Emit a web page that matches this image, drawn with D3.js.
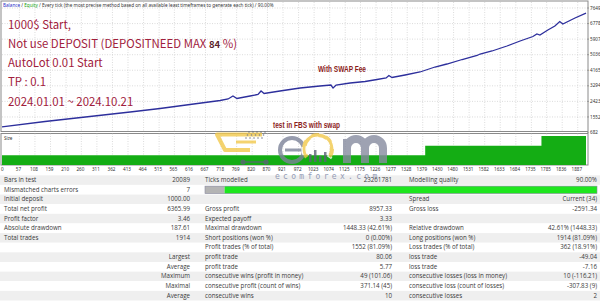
<!DOCTYPE html>
<html>
<head>
<meta charset="utf-8">
<script src="https://cdn.jsdelivr.net/npm/d3@7"></script>
<style>
  body { margin: 0; background: #fff; }
  svg { display: block; }
  .grid { stroke: #c4c4c4; stroke-width: 0.6; stroke-dasharray: 1,1.5; }
  .skala { font-family: "Noto Sans", sans-serif; font-size: 4.6px; fill: #333; }
  .note { font-family: "Noto Sans CJK KR", "Noto Sans", sans-serif; fill: #a1203c; }
  .swap { font-family: "Liberation Sans Narrow", "Liberation Sans", sans-serif; font-weight: bold; font-size: 9.4px; fill: #8c1c1c; }
  .tab { font-family: "Open Sans", sans-serif; font-size: 6.2px; fill: #3a3a3a; }
</style>
</head>
<body>
<div id="box"></div>
<script>
// balance curve (trade number -> balance)
const tradeNo = [0, 141, 288, 420, 518, 616, 715, 741, 757, 770, 813, 839, 849, 859, 911, 977,
  1042, 1078, 1085, 1095, 1141, 1190, 1229, 1259, 1268, 1278, 1321, 1370, 1419, 1458, 1508,
  1557, 1567, 1606, 1655, 1698, 1740, 1753, 1763, 1789, 1812, 1828, 1838, 1878, 1914]
const balance = [1000, 1298, 1577, 1829, 2025, 2249, 2473, 2557, 2725, 2585, 2725, 2808, 3004, 2864, 3004, 3172,
  3284, 3340, 3172, 3340, 3452, 3536, 3648, 3732, 3872, 3760, 3900, 4068, 4347, 4515, 4767,
  4991, 5075, 5243, 5523, 5802, 6054, 6194, 6138, 6418, 6642, 6894, 6753, 7089, 7366]

// lot size steps
const sizeFrom = [0, 1387, 1768]
const sizeLots = [0.01, 0.02, 0.03]
const totalTrades = 1914

// axis labels
const xTicks = [0, 57, 108, 159, 210, 260, 311, 362, 413, 464, 515, 565, 616, 667, 718, 769, 820, 870,
  921, 972, 1023, 1074, 1125, 1175, 1226, 1277, 1328, 1379, 1430, 1480, 1531, 1582, 1633, 1684,
  1735, 1785, 1836, 1887]
const yTicks = [682, 1552, 2423, 3294, 4165, 5036, 5907, 6778, 7649]

// notes written on the chart
const notes = ["1000$ Start,", "Not use DEPOSIT (DEPOSITNEED MAX ", "AutoLot 0.01 Start", "TP : 0.1", "2024.01.01 ~ 2024.10.21"]

// report table
const reportRows = [
  ["Bars in test", "20089", "Ticks modelled", "23261781", "Modelling quality", "90.00%"],
  ["Mismatched charts errors", "7", "", "", "", ""],
  ["Initial deposit", "1000.00", "", "", "Spread", "Current (34)"],
  ["Total net profit", "6365.99", "Gross profit", "8957.33", "Gross loss", "-2591.34"],
  ["Profit factor", "3.46", "Expected payoff", "3.33", "", ""],
  ["Absolute drawdown", "187.61", "Maximal drawdown", "1448.33 (42.61%)", "Relative drawdown", "42.61% (1448.33)"],
  ["Total trades", "1914", "Short positions (won %)", "0 (0.00%)", "Long positions (won %)", "1914 (81.09%)"],
  ["", "", "Profit trades (% of total)", "1552 (81.09%)", "Loss trades (% of total)", "362 (18.91%)"],
  ["", "Largest", "profit trade", "80.06", "loss trade", "-49.04"],
  ["", "Average", "profit trade", "5.77", "loss trade", "-7.16"],
  ["", "Maximum", "consecutive wins (profit in money)", "49 (101.06)", "consecutive losses (loss in money)", "10 (-116.21)"],
  ["", "Maximal", "consecutive profit (count of wins)", "371.14 (45)", "consecutive loss (count of losses)", "-307.83 (9)"],
  ["", "Average", "consecutive wins", "10", "consecutive losses", "2"]
]
const qualityParts = [[0, 5, "#b4b4b4"], [5, 100, "#1ee61e"]]

const W = 600, H = 301
const plotL = 2, plotR = 586
const mainTop = 2, mainBot = 131.5
const sizeTop = 133.5, sizeBot = 165

const svg = d3.select("#box").append("svg").attr("width", W).attr("height", H)

const x = d3.scaleLinear().domain([0, totalTrades]).range([plotL, plotR])
const y = d3.scaleLinear().domain([682, 7649]).range([132.5, 8])
const ys = d3.scaleLinear().domain([0, 0.03]).range([sizeBot, 136])

// frames
svg.append("rect").attr("x", 1).attr("y", 1).attr("width", plotR + 1).attr("height", mainBot - 1)
  .attr("fill", "#fff").attr("stroke", "#8a8a8a").attr("stroke-width", 1)
svg.append("rect").attr("x", 1).attr("y", sizeTop).attr("width", plotR + 1).attr("height", sizeBot - sizeTop)
  .attr("fill", "#fff").attr("stroke", "#8a8a8a").attr("stroke-width", 1)

// grid
const g = svg.append("g")
g.selectAll("line.vx").data(xTicks.slice(1)).enter().append("line")
  .attr("class", "grid").attr("x1", d => x(d)).attr("x2", d => x(d)).attr("y1", mainTop).attr("y2", mainBot)
g.selectAll("line.vs").data(xTicks.slice(1)).enter().append("line")
  .attr("class", "grid").attr("x1", d => x(d)).attr("x2", d => x(d)).attr("y1", sizeTop).attr("y2", sizeBot)
g.selectAll("line.hy").data(yTicks.slice(1)).enter().append("line")
  .attr("class", "grid").attr("x1", plotL).attr("x2", plotR).attr("y1", d => y(d)).attr("y2", d => y(d))

// size panel
const sizeData = sizeFrom.map((d, i) => ({ t: d, v: sizeLots[i] }))
sizeData.push({ t: totalTrades, v: sizeLots[sizeLots.length - 1] })
svg.append("path").datum(sizeData)
  .attr("fill", "#14ad14")
  .attr("d", d3.area().curve(d3.curveStepAfter).x(d => x(d.t)).y0(sizeBot).y1(d => ys(d.v)))
svg.append("text").attr("class", "skala").attr("x", 4).attr("y", 139.5).text("Size")

// balance line
const pts = tradeNo.map((t, i) => [t, balance[i]])
svg.append("path").datum(pts)
  .attr("fill", "none").attr("stroke", "#2d2f9c").attr("stroke-width", 1.3)
  .attr("d", d3.line().x(d => x(d[0])).y(d => y(d[1])))

// right axis
svg.append("g").selectAll("text").data(yTicks).enter().append("text")
  .attr("class", "skala").attr("x", 590).attr("y", d => y(d) + 1.6).text(d => d)
svg.append("g").selectAll("line").data(yTicks).enter().append("line")
  .attr("x1", plotR + 1).attr("x2", plotR + 3).attr("y1", d => y(d)).attr("y2", d => y(d))
  .attr("stroke", "#777").attr("stroke-width", 0.6)

// bottom axis
svg.append("g").selectAll("text").data(xTicks).enter().append("text")
  .attr("class", "skala").attr("x", d => x(d) - 1).attr("y", 170.5)
  .style("text-anchor", d => d == 0 ? "start" : "middle").text(d => d)

// title
const title = svg.append("text").attr("class", "skala").attr("x", 3).attr("y", 6.5).style("font-size", "4.65px")
title.append("tspan").attr("fill", "#1f2fc8").text("Balance")
title.append("tspan").text(" / ")
title.append("tspan").attr("fill", "#10a010").text("Equity")
title.append("tspan").text(" / Every tick (the most precise method based on all available least timeframes to generate each tick) / 90.00%")

// notes
const noteY = [29, 48, 67, 86, 106]
notes.forEach((s, i) => {
  const t = svg.append("text").attr("class", "note").attr("x", 8).attr("y", noteY[i])
    .style("font-size", "11.4px").text(s)
  if (i == 1) {
    t.append("tspan").style("font-weight", "bold").style("font-size", "9.5px").attr("fill", "#5c1f2c").text("84")
    t.append("tspan").text(" %)")
  }
})
svg.append("text").attr("class", "swap").attr("x", 318).attr("y", 72)
  .attr("textLength", 48).attr("lengthAdjust", "spacingAndGlyphs").text("With SWAP  Fee")
svg.append("text").attr("class", "swap").attr("x", 273).attr("y", 127.5)
  .attr("textLength", 67).attr("lengthAdjust", "spacingAndGlyphs").text("test in FBS with swap")

// table
const rowH = 9.63, tabTop = 175.3
const tab = svg.append("g")
tab.selectAll("rect").data(reportRows).enter().append("rect")
  .attr("x", 0).attr("y", (d, i) => tabTop + i * rowH).attr("width", W).attr("height", rowH)
  .attr("fill", (d, i) => i % 2 == 0 ? "#efefef" : "#fff")
const colX = [4, 190, 205, 392, 409, 597]
const colA = ["start", "end", "start", "end", "start", "end"]
reportRows.forEach((r, i) => {
  r.forEach((c, j) => {
    if (c == "") return
    tab.append("text").attr("class", "tab").attr("x", colX[j]).attr("y", tabTop + i * rowH + 6.7)
      .style("text-anchor", colA[j]).text(c)
  })
})
// modelling quality bar
const q = d3.scaleLinear().domain([0, 100]).range([205, 597])
tab.selectAll("rect.q").data(qualityParts).enter().append("rect")
  .attr("x", d => q(d[0])).attr("y", tabTop + rowH + 1.2).attr("width", d => q(d[1]) - q(d[0])).attr("height", 7.4)
  .attr("fill", d => d[2])
tab.append("rect").attr("x", q(0)).attr("y", tabTop + rowH + 1.2).attr("width", q(100) - q(0)).attr("height", 7.4)
  .attr("fill", "none").attr("stroke", "#8a8aa0").attr("stroke-width", 0.6)

// watermark logo
const wm = svg.append("g").attr("opacity", 0.8)
wm.append("path").attr("d", "M262,134.5 L217,134.5 L225,150 L250,150")
  .attr("fill", "none").attr("stroke", "#f2c94c").attr("stroke-width", 4).attr("stroke-linejoin", "round")
wm.append("path").attr("d", "M236,142 L256,142")
  .attr("fill", "none").attr("stroke", "#f2c94c").attr("stroke-width", 3)
for (let r = 0; r < 3; r++) {
  for (let c = 0; c < 5; c++) {
    wm.append("circle").attr("cx", 249 + c * 4 - r * 1.5).attr("cy", 132 + r * 3).attr("r", 0.8).attr("fill", "#5d6478")
  }
}
wm.append("circle").attr("cx", 243).attr("cy", 162).attr("r", 2.6).attr("fill", "#5d6478")
wm.append("circle").attr("cx", 266).attr("cy", 162).attr("r", 2.6).attr("fill", "#5d6478")
wm.append("line").attr("x1", 243).attr("x2", 266).attr("y1", 162).attr("y2", 162).attr("stroke", "#5d6478").attr("stroke-width", 1.5)
wm.append("circle").attr("cx", 292).attr("cy", 150).attr("r", 12).attr("fill", "none").attr("stroke", "#7c8399").attr("stroke-width", 4)
wm.append("line").attr("x1", 285).attr("x2", 302).attr("y1", 150).attr("y2", 150).attr("stroke", "#7c8399").attr("stroke-width", 3)
wm.append("path").attr("d", d3.arc()({ innerRadius: 12, outerRadius: 16, startAngle: -2.2, endAngle: 2.2 }))
  .attr("transform", "translate(318,149)").attr("fill", "#f2c94c").attr("stroke", "#fff").attr("stroke-width", 1.2)
  .attr("stroke-dasharray", "0,4,4")
const barsH = [8, 12, 6, 10]
barsH.forEach((h, i) => {
  wm.append("rect").attr("x", 309 + i * 5).attr("y", 162 - h).attr("width", 2.5).attr("height", h).attr("fill", "#5d6478")
})
// "m" of the logo drawn as a shape
wm.append("path").attr("d", "M347,163 L347,139 M347,148 A9,9 0 0 1 365,148 L365,163 M365,148 A9,9 0 0 1 383,148 L383,163")
  .attr("fill", "none").attr("stroke", "#878ca0").attr("stroke-width", 8)
wm.append("text").attr("x", 275).attr("y", 178.5).attr("fill", "#7b86a6")
  .style("font-family", "DejaVu Sans Mono, monospace").style("font-size", "8px").style("letter-spacing", "3.3px")
  .text("ecomforex.com")
</script>
</body>
</html>
